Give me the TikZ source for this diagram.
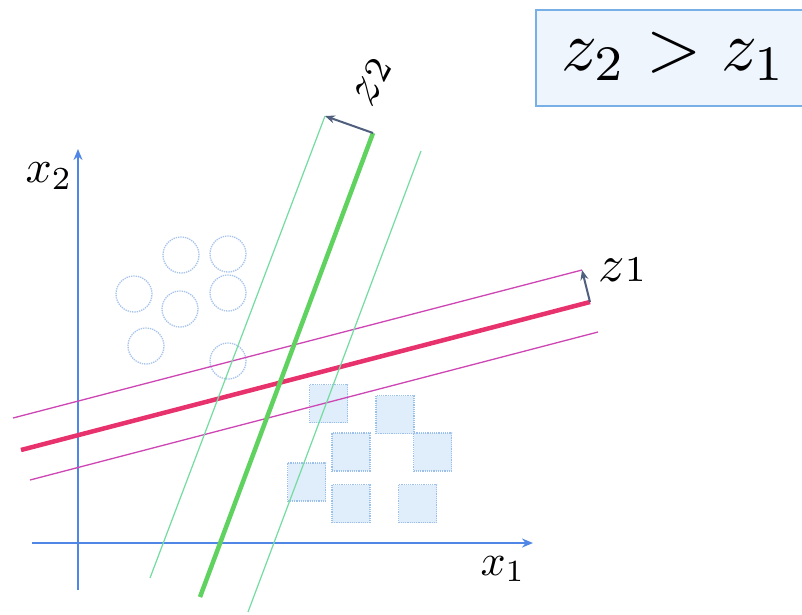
\documentclass[tikz,border=0pt]{standalone}
\usetikzlibrary{arrows.meta}
\definecolor{axisblue}{RGB}{80,135,230}
\definecolor{pinkthick}{RGB}{232,50,110}
\definecolor{pinkthin}{RGB}{205,70,180}
\definecolor{greenthick}{RGB}{95,210,95}
\definecolor{greenthin}{RGB}{115,220,160}
\definecolor{arrowgray}{RGB}{80,95,125}
\definecolor{circblue}{RGB}{165,195,235}
\definecolor{sqfill}{RGB}{224,237,250}
\definecolor{sqborder}{RGB}{155,192,235}
\definecolor{boxfill}{RGB}{238,245,252}
\definecolor{boxborder}{RGB}{120,175,230}
\tikzset{
  axisline/.style={draw=axisblue, line width=2.6pt, -{Stealth[length=11pt,width=9pt]}},
  thickpink/.style={draw=pinkthick, line width=4.5pt},
  thinpink/.style={draw=pinkthin, line width=1.3pt},
  thickgreen/.style={draw=greenthick, line width=4.5pt},
  thingreen/.style={draw=greenthin, line width=1.2pt},
  marginarrow/.style={draw=arrowgray, line width=2pt, -{Stealth[length=10pt,width=8pt]}},
  circpt/.style={circle, draw=circblue, densely dotted, line width=1.3pt, minimum size=36pt, inner sep=0pt},
  sqpt/.style={rectangle, draw=sqborder, fill=sqfill, densely dotted, line width=1.2pt, minimum size=38pt, inner sep=0pt},
  lbl/.style={inner sep=0pt, text=black},
}
\begin{document}
\begin{tikzpicture}[x=1pt, y=-1pt]
\useasboundingbox (0,0) rectangle (802,614);
\fill[white] (0,0) rectangle (802,614);
% box top right
\fill[boxfill] (536,10) rectangle (802,106);
\draw[boxborder, line width=1.6pt] (802,10) -- (536,10) -- (536,106) -- (802,106);
\node[lbl, anchor=base] (box) at (674,70) {\scalebox{7.1}{$z_2 > z_1$}};
% circles
\node[circpt] (c1) at (181,255) {};
\node[circpt] (c2) at (228,254) {};
\node[circpt] (c3) at (134,294) {};
\node[circpt] (c4) at (180,309) {};
\node[circpt] (c5) at (228,293) {};
\node[circpt] (c6) at (146,346) {};
\node[circpt] (c7) at (228,361) {};
% squares
\node[sqpt] (s1) at (328.5,403.5) {};
\node[sqpt] (s2) at (395,414.5) {};
\node[sqpt] (s3) at (351,452) {};
\node[sqpt] (s4) at (432.5,452) {};
\node[sqpt] (s5) at (306.5,482) {};
\node[sqpt] (s6) at (351,503.5) {};
\node[sqpt] (s7) at (417.5,503.5) {};
% axes
\coordinate (xs) at (32,543);
\coordinate (xe) at (533,543);
\coordinate (ys) at (78,590);
\coordinate (ye) at (78,149);
\draw[axisline] (xs) -- (xe);
\draw[axisline] (ys) -- (ye);
\node[lbl] (x2) at (49,176) {\scalebox{4.6}{$x_2$}};
\node[lbl] (x1) at (503,569) {\scalebox{4.4}{$x_1$}};
% pink lines (z1)
\coordinate (pa1) at (13,418);  \coordinate (pa2) at (582,270);
\coordinate (pb1) at (21,450);  \coordinate (pb2) at (590,302);
\coordinate (pc1) at (30,480);  \coordinate (pc2) at (598,332);
\draw[thinpink] (pa1) -- (pa2);
\draw[thinpink] (pc1) -- (pc2);
\draw[thickpink] (pb1) -- (pb2);
% green lines (z2)
\coordinate (ga1) at (150,578); \coordinate (ga2) at (325,116);
\coordinate (gb1) at (200,597); \coordinate (gb2) at (373,133);
\coordinate (gc1) at (248,612); \coordinate (gc2) at (421,151);
\draw[thingreen] (ga1) -- (ga2);
\draw[thingreen] (gc1) -- (gc2);
\draw[thickgreen] (gb1) -- (gb2);
% margin arrows
\draw[marginarrow] (pb2) -- (pa2);
\draw[marginarrow] (gb2) -- (ga2);
% labels
\node[lbl] (z1) at (622,270) {\scalebox{5.2}{$z{\scriptstyle 1}$}};
\node[lbl, rotate=62] (z2) at (372,82) {\scalebox{5.2}{$z{\scriptstyle 2}$}};
\end{tikzpicture}
\end{document}
